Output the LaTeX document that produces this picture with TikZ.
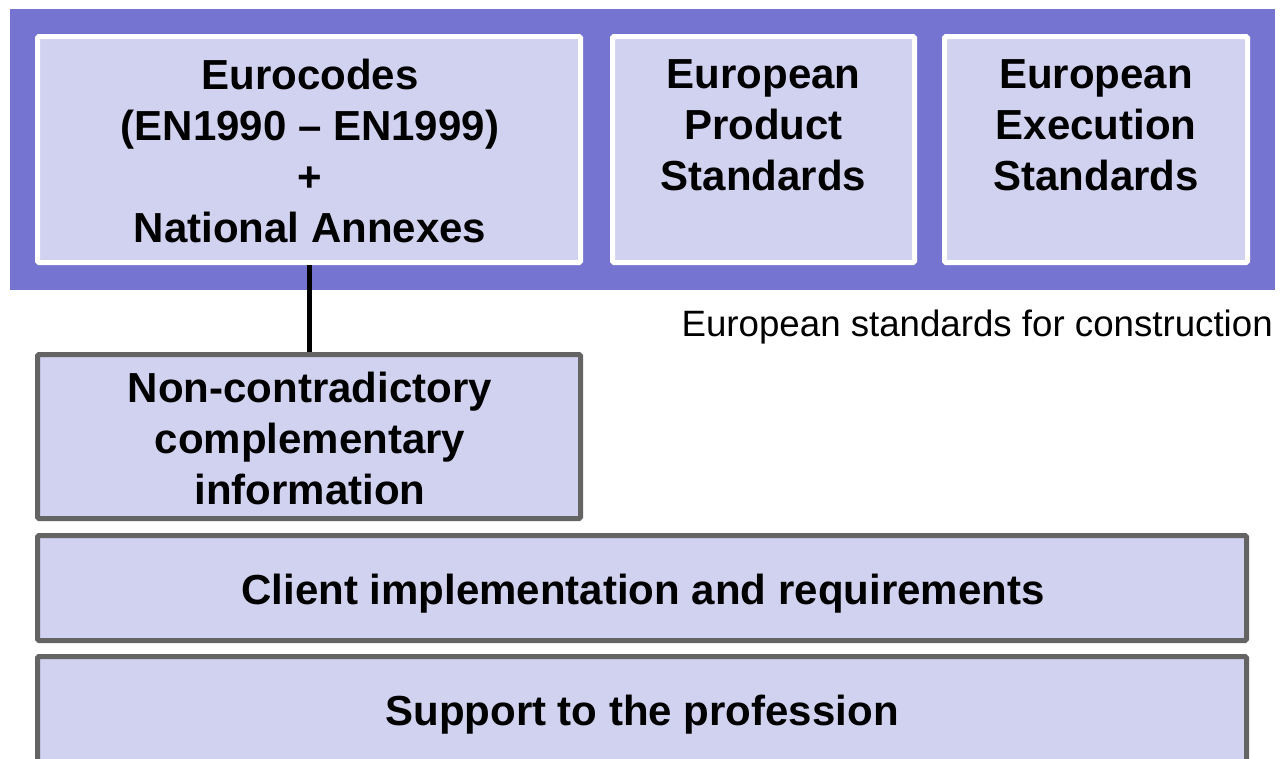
\documentclass[tikz,border=0pt]{standalone}
\usepackage{fontspec}
\setmainfont{Liberation Sans}
\usetikzlibrary{fit}
\definecolor{bandpurple}{RGB}{117,117,209}
\definecolor{boxfill}{RGB}{209,209,240}
\definecolor{boxgray}{RGB}{100,100,100}
\newcommand\bigtext{\fontsize{31.5}{38.25}\selectfont\bfseries}
\newcommand\smalltext{\fontsize{27.5}{33}\selectfont}
\begin{document}
\begin{tikzpicture}[x=0.75pt,y=-0.75pt,
  band/.style={fill=bandpurple, draw=none, inner sep=0pt},
  topbox/.style={fill=boxfill, draw=white, line width=3.75pt, inner sep=0pt, rounded corners=1pt},
  graybox/.style={fill=boxfill, draw=boxgray, line width=3.75pt, inner sep=0pt, rounded corners=1pt},
  boxtext/.style={font=\bigtext, align=center, inner sep=0pt},
  plaintext/.style={font=\smalltext, inner sep=0pt},
  connector/.style={draw=black, line width=3.75pt}]
\clip (0,0) rectangle (1280,758);
\fill[white] (0,0) rectangle (1280,758);
% purple band
\node[band, fit={(10,9) (1275,290)}] (band) {};
% top boxes
\node[topbox, fit={(37.5,36.5) (580.5,262.5)}] (euro) {};
\node[topbox, fit={(612.5,36.5) (914.5,262.5)}] (prod) {};
\node[topbox, fit={(944.5,36.5) (1247.5,262.5)}] (exec) {};
\node[boxtext] (euroT) at (310,151) {Eurocodes\\(EN1990 – EN1999)\\+\\National Annexes};
\node[boxtext] (prodT) at (763.5,125.5) {European\\Product\\Standards};
\node[boxtext] (execT) at (1096,125.5) {European\\Execution\\Standards};
% label
\node[plaintext, anchor=east] (label) at (1273,327) {European standards for construction};
% lower boxes
\node[graybox, fit={(37.5,354.5) (580.5,518.5)}] (nc) {};
\node[graybox, fit={(37.5,535.5) (1246.5,640.5)}] (client) {};
\node[graybox, fit={(37.5,656.5) (1246.5,765.5)}] (support) {};
\node[boxtext] (ncT) at (310,438) {Non-contradictory\\complementary\\information};
\node[boxtext] (clientT) at (643,594) {Client implementation and requirements};
\node[boxtext] (supportT) at (642,715) {Support to the profession};
% connector
\draw[connector] (euro.south) -- (nc.north);
\end{tikzpicture}
\end{document}
